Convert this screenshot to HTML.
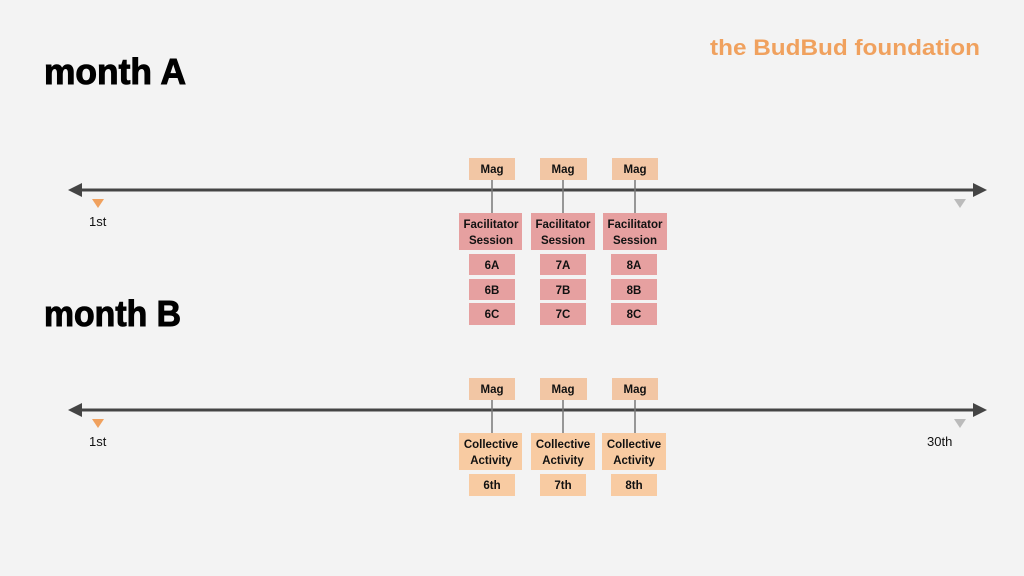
<!DOCTYPE html>
<html><head><meta charset="utf-8"><style>
html,body{margin:0;padding:0;background:#f3f3f3;}
svg{display:block}
text{font-family:"Liberation Sans",sans-serif;}
</style></head><body>
<svg width="1024" height="576" viewBox="0 0 1024 576">
<rect width="1024" height="576" fill="#f3f3f3"/>
<text x="710" y="55" font-size="22" font-weight="bold" fill="#f0a15e" textLength="270" lengthAdjust="spacingAndGlyphs">the BudBud foundation</text>
<text x="44" y="84" font-size="36" font-weight="bold" fill="#000" stroke="#000" stroke-width="1" textLength="142" lengthAdjust="spacingAndGlyphs">month A</text>
<text x="44" y="326" font-size="36" font-weight="bold" fill="#000" stroke="#000" stroke-width="1" textLength="137" lengthAdjust="spacingAndGlyphs">month B</text>

<line x1="78" y1="190" x2="977" y2="190" stroke="#444" stroke-width="3"/>
<polygon points="68,190 82,183 82,197" fill="#444"/>
<polygon points="987,190 973,183 973,197" fill="#444"/>
<polygon points="92,199 104,199 98,208" fill="#f0a15e"/>
<polygon points="954,199 966,199 960,208" fill="#bbb"/>
<text x="89" y="226" font-size="13" fill="#111">1st</text>

<line x1="78" y1="410" x2="977" y2="410" stroke="#444" stroke-width="3"/>
<polygon points="68,410 82,403 82,417" fill="#444"/>
<polygon points="987,410 973,403 973,417" fill="#444"/>
<polygon points="92,419 104,419 98,428" fill="#f0a15e"/>
<polygon points="954,419 966,419 960,428" fill="#bbb"/>
<text x="89" y="446" font-size="13" fill="#111">1st</text>
<text x="927" y="446" font-size="13" fill="#111">30th</text>

<g font-size="11.5" font-weight="bold" fill="#111" text-anchor="middle">
<g stroke="#777" stroke-width="1.5">
<line x1="492" y1="180" x2="492" y2="213"/><line x1="563" y1="180" x2="563" y2="213"/><line x1="635" y1="180" x2="635" y2="213"/>
<line x1="492" y1="400" x2="492" y2="433"/><line x1="563" y1="400" x2="563" y2="433"/><line x1="635" y1="400" x2="635" y2="433"/>
</g>
<rect x="469" y="158" width="46" height="22" fill="#f2c6a4"/><text x="492" y="173">Mag</text>
<rect x="540" y="158" width="47" height="22" fill="#f2c6a4"/><text x="563" y="173">Mag</text>
<rect x="612" y="158" width="46" height="22" fill="#f2c6a4"/><text x="635" y="173">Mag</text>

<rect x="459" y="213" width="63" height="37" fill="#e6a0a0"/><text x="491" y="228">Facilitator</text><text x="491" y="244">Session</text>
<rect x="531" y="213" width="64" height="37" fill="#e6a0a0"/><text x="563" y="228">Facilitator</text><text x="563" y="244">Session</text>
<rect x="603" y="213" width="64" height="37" fill="#e6a0a0"/><text x="635" y="228">Facilitator</text><text x="635" y="244">Session</text>

<rect x="469" y="254" width="46" height="21" fill="#e6a0a0"/><text x="492" y="269">6A</text>
<rect x="469" y="279" width="46" height="21" fill="#e6a0a0"/><text x="492" y="294">6B</text>
<rect x="469" y="303" width="46" height="22" fill="#e6a0a0"/><text x="492" y="318">6C</text>
<rect x="540" y="254" width="46" height="21" fill="#e6a0a0"/><text x="563" y="269">7A</text>
<rect x="540" y="279" width="46" height="21" fill="#e6a0a0"/><text x="563" y="294">7B</text>
<rect x="540" y="303" width="46" height="22" fill="#e6a0a0"/><text x="563" y="318">7C</text>
<rect x="611" y="254" width="46" height="21" fill="#e6a0a0"/><text x="634" y="269">8A</text>
<rect x="611" y="279" width="46" height="21" fill="#e6a0a0"/><text x="634" y="294">8B</text>
<rect x="611" y="303" width="46" height="22" fill="#e6a0a0"/><text x="634" y="318">8C</text>

<rect x="469" y="378" width="46" height="22" fill="#f2c6a4"/><text x="492" y="393">Mag</text>
<rect x="540" y="378" width="47" height="22" fill="#f2c6a4"/><text x="563" y="393">Mag</text>
<rect x="612" y="378" width="46" height="22" fill="#f2c6a4"/><text x="635" y="393">Mag</text>

<rect x="459" y="433" width="63" height="37" fill="#f8cba2"/><text x="491" y="448">Collective</text><text x="491" y="464">Activity</text>
<rect x="531" y="433" width="64" height="37" fill="#f8cba2"/><text x="563" y="448">Collective</text><text x="563" y="464">Activity</text>
<rect x="602" y="433" width="64" height="37" fill="#f8cba2"/><text x="634" y="448">Collective</text><text x="634" y="464">Activity</text>

<rect x="469" y="474" width="46" height="22" fill="#f8cba2"/><text x="492" y="489">6th</text>
<rect x="540" y="474" width="46" height="22" fill="#f8cba2"/><text x="563" y="489">7th</text>
<rect x="611" y="474" width="46" height="22" fill="#f8cba2"/><text x="634" y="489">8th</text>
</g>
</svg>
</body></html>
